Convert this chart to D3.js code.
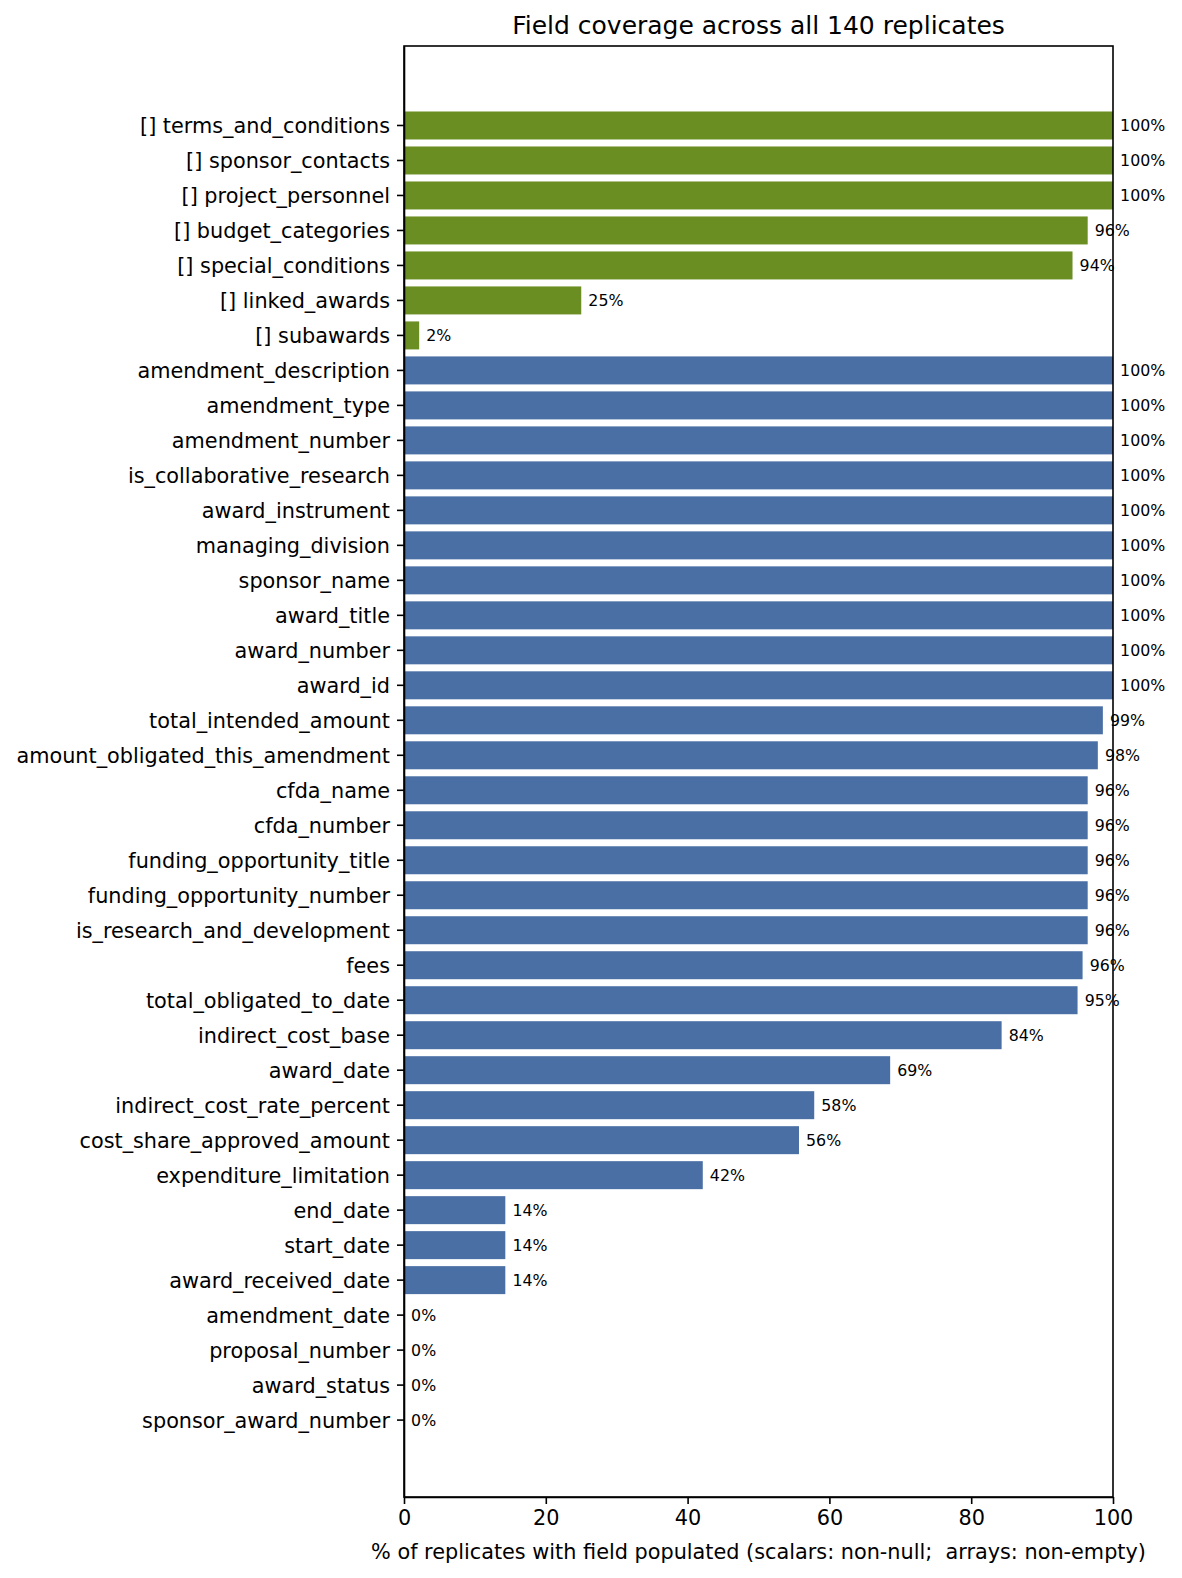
<!DOCTYPE html>
<html>
<head>
<meta charset="utf-8">
<script src="https://cdn.jsdelivr.net/npm/d3@7"></script>
<style>
  body { margin: 0; background: #fff; }
  svg text { font-family: "DejaVu Sans", sans-serif; fill: #000; }
  .axis path, .axis line { stroke: #000; stroke-width: 1.6; }
</style>
</head>
<body>
<svg id="chart"></svg>
<script>
// field names, top to bottom
const fields = [
  "[] terms_and_conditions", "[] sponsor_contacts", "[] project_personnel",
  "[] budget_categories", "[] special_conditions", "[] linked_awards", "[] subawards",
  "amendment_description", "amendment_type", "amendment_number",
  "is_collaborative_research", "award_instrument", "managing_division",
  "sponsor_name", "award_title", "award_number", "award_id",
  "total_intended_amount", "amount_obligated_this_amendment", "cfda_name",
  "cfda_number", "funding_opportunity_title", "funding_opportunity_number",
  "is_research_and_development", "fees", "total_obligated_to_date",
  "indirect_cost_base", "award_date", "indirect_cost_rate_percent",
  "cost_share_approved_amount", "expenditure_limitation", "end_date",
  "start_date", "award_received_date", "amendment_date", "proposal_number",
  "award_status", "sponsor_award_number"
];
// % of replicates populated
const coverage = [
  100, 100, 100, 96.43, 94.29, 25.0, 2.14,
  100, 100, 100, 100, 100, 100, 100, 100, 100, 100,
  98.57, 97.86, 96.43, 96.43, 96.43, 96.43, 96.43, 95.71, 95.0,
  84.29, 68.57, 57.86, 55.71, 42.14, 14.29, 14.29, 14.29,
  0, 0, 0, 0
];
// arrays vs scalars
const kinds = [
  "array", "array", "array", "array", "array", "array", "array",
  "scalar", "scalar", "scalar", "scalar", "scalar", "scalar", "scalar", "scalar", "scalar", "scalar",
  "scalar", "scalar", "scalar", "scalar", "scalar", "scalar", "scalar", "scalar", "scalar",
  "scalar", "scalar", "scalar", "scalar", "scalar", "scalar", "scalar", "scalar",
  "scalar", "scalar", "scalar", "scalar"
];
const xTicks = [0, 20, 40, 60, 80, 100];

const data = fields.map((f, i) => ({field: f, value: coverage[i], kind: kinds[i]}));

const width = 1182, height = 1578;
const margin = {top: 46, right: 69, bottom: 81, left: 404};
const innerW = width - margin.left - margin.right;
const innerH = height - margin.top - margin.bottom;

const color = d3.scaleOrdinal().domain(["array", "scalar"]).range(["#6b8e23", "#4a6fa5"]);

const svg = d3.select("#chart").attr("width", width).attr("height", height);
const chart = svg.append("g").attr("transform", `translate(${margin.left},${margin.top})`);

const x = d3.scaleLinear().domain([0, 100]).range([0, innerW]);
// bar height 0.8 of the step, wide empty margin above and below
const y = d3.scaleBand()
  .domain(fields)
  .range([0, innerH])
  .paddingInner(0.2)
  .paddingOuter(1.835)
  .align(0.51);

// bars
chart.selectAll("rect.bar")
  .data(data)
  .join("rect")
  .attr("class", "bar")
  .attr("x", x(0))
  .attr("y", d => y(d.field))
  .attr("width", d => x(d.value) - x(0))
  .attr("height", y.bandwidth())
  .attr("fill", d => color(d.kind));

// value labels
chart.selectAll("text.val")
  .data(data)
  .join("text")
  .attr("class", "val")
  .attr("x", d => x(d.value + 1))
  .attr("y", d => y(d.field) + y.bandwidth() / 2)
  .attr("dy", "0.38em")
  .style("font-size", "15.8px")
  .text(d => d3.format(".0f")(d.value) + "%");

// axes
const xAxis = d3.axisBottom(x).tickValues(xTicks).tickSize(7).tickPadding(6).tickSizeOuter(0);
const yAxis = d3.axisLeft(y).tickSize(7).tickPadding(7).tickSizeOuter(0);

chart.append("g")
  .attr("class", "axis x-axis")
  .attr("transform", `translate(0,${innerH})`)
  .call(xAxis)
  .call(g => g.selectAll("text").style("font-size", "20.8px"));

chart.append("g")
  .attr("class", "axis y-axis")
  .call(yAxis)
  .call(g => g.selectAll("text").attr("dy", "0.38em").style("font-size", "20.8px"));

// frame (top and right spines)
chart.append("rect")
  .attr("width", innerW)
  .attr("height", innerH)
  .attr("fill", "none")
  .attr("stroke", "#000")
  .attr("stroke-width", 1.6);

// title
svg.append("text")
  .attr("x", margin.left + innerW / 2)
  .attr("y", margin.top - 12)
  .attr("text-anchor", "middle")
  .style("font-size", "25px")
  .text("Field coverage across all 140 replicates");

// x axis title
svg.append("text")
  .attr("x", margin.left + innerW / 2)
  .attr("y", 1559)
  .attr("text-anchor", "middle")
  .style("font-size", "20.8px")
  .style("white-space", "pre")
  .text("% of replicates with field populated (scalars: non-null;  arrays: non-empty)");
</script>
</body>
</html>
